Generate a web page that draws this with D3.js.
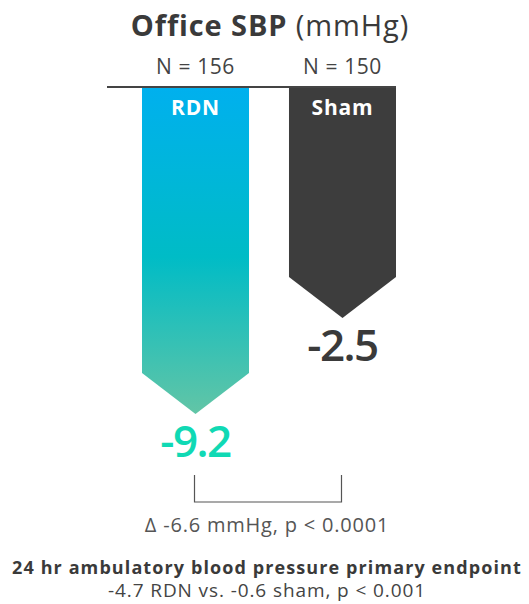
<!DOCTYPE html>
<html><head><meta charset="utf-8">
<script src="https://cdn.jsdelivr.net/npm/d3@7"></script>
<style>html,body{margin:0;padding:0;background:#fff}svg{display:block}</style>
</head><body>
<svg id="c" width="529" height="604"></svg>
<script>
const categories = ["RDN", "Sham"];
const nLabels = ["N = 156", "N = 150"];
const values = [-9.2, -2.5];
const valueLabels = ["-9.2", "-2.5"];
const delta = "Δ -6.6 mmHg, p < 0.0001";
const title = ["Office SBP", " (mmHg)"];
const footnoteTitle = "24 hr ambulatory blood pressure primary endpoint";
const footnote = "-4.7 RDN vs. -0.6 sham, p < 0.001";

const svg = d3.select("#c");
const font = "'Open Sans', Lato, sans-serif";
const baseY = 87;

const x = d3.scaleBand().domain(categories).range([142, 396]).paddingInner(0.272).paddingOuter(0);
// stylized (non-zero-based) scale: tip positions
const y = d3.scaleLinear().domain([13.6, -9.2]).range([baseY, 414]);
const tip = 41;

const defs = svg.append("defs");
const g = defs.append("linearGradient").attr("id","rdnGrad").attr("x1",0).attr("y1",0).attr("x2",0).attr("y2",1);
g.append("stop").attr("offset","0%").attr("stop-color","#00b0ee");
g.append("stop").attr("offset","52%").attr("stop-color","#00bcc6");
g.append("stop").attr("offset","100%").attr("stop-color","#62c5a6");

const fills = ["url(#rdnGrad)", "#3d3d3d"];
const valueColors = ["#10d9b4", "#3a3a3a"];

// title
const t = svg.append("text").attr("x", 270).attr("y", 36).attr("text-anchor","middle")
  .attr("font-family", font).attr("font-size", 29).attr("letter-spacing", 0.9).attr("fill","#3a3a3a");
t.append("tspan").attr("font-weight","bold").text(title[0]);
t.append("tspan").attr("font-weight","normal").text(title[1]);

categories.forEach((c,i)=>{
  const x0 = x(c), w = x.bandwidth(), cx = x0 + w/2;
  const yt = y(values[i]);
  svg.append("path")
    .attr("d", `M${x0},${baseY} L${x0+w},${baseY} L${x0+w},${yt-tip} L${cx},${yt} L${x0},${yt-tip} Z`)
    .attr("fill", fills[i]);
  svg.append("text").attr("x", cx).attr("y", 115).attr("text-anchor","middle")
    .attr("font-family", font).attr("font-weight","bold").attr("font-size", 21).attr("letter-spacing", 0.8)
    .attr("fill","#fff").text(c);
  svg.append("text").attr("x", cx).attr("y", 74).attr("text-anchor","middle")
    .attr("font-family", font).attr("font-size", 21).attr("letter-spacing", 0.6).attr("fill","#444").text(nLabels[i]);
  svg.append("text").attr("x", cx).attr("y", yt + 43).attr("text-anchor","middle")
    .attr("font-family", font).attr("font-weight",600).attr("font-size", 44).attr("letter-spacing", -1.5)
    .attr("fill", valueColors[i]).text(valueLabels[i]);
});

// baseline
svg.append("line").attr("x1",107).attr("x2",396).attr("y1",baseY).attr("y2",baseY)
  .attr("stroke","#444").attr("stroke-width",2);

// bracket
const bx1 = x(categories[0]) + x.bandwidth()/2 - 1, bx2 = x(categories[1]) + x.bandwidth()/2 - 1;
svg.append("path").attr("d", `M${bx1},475 L${bx1},502 L${bx2},502 L${bx2},475`)
  .attr("fill","none").attr("stroke","#555").attr("stroke-width",1.2);
svg.append("text").attr("x", 267).attr("y", 532).attr("text-anchor","middle")
  .attr("font-family", font).attr("font-size", 20).attr("letter-spacing", 0.8).attr("fill","#555").text(delta);

svg.append("text").attr("x", 267).attr("y", 574).attr("text-anchor","middle")
  .attr("font-family", font).attr("font-weight","bold").attr("font-size", 18).attr("letter-spacing", 1.1)
  .attr("fill","#3a3a3a").text(footnoteTitle);
svg.append("text").attr("x", 267).attr("y", 597).attr("text-anchor","middle")
  .attr("font-family", font).attr("font-size", 19).attr("letter-spacing", 0.9).attr("fill","#444").text(footnote);
</script>
</body></html>
